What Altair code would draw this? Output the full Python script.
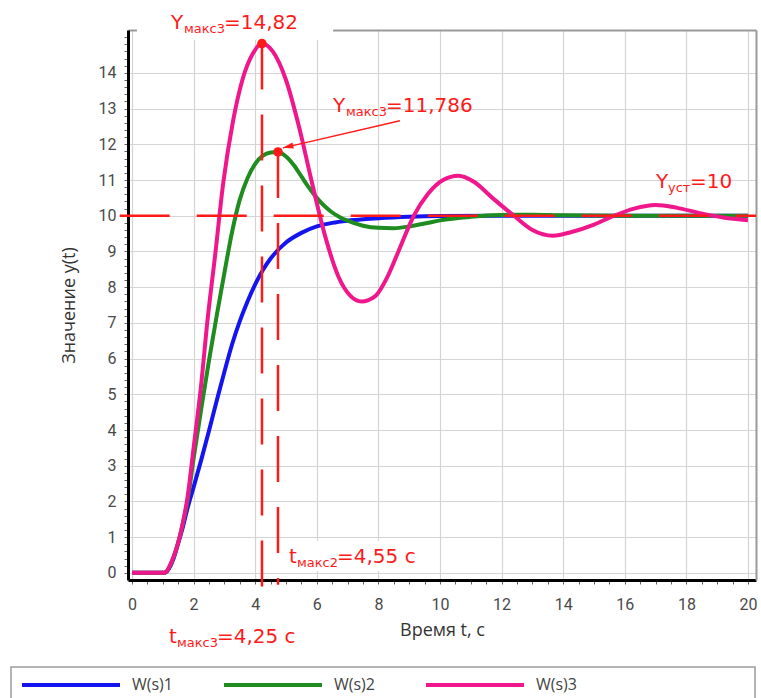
import altair as alt
import pandas as pd

# ---------------- data ----------------
series_names = ["W(s)1", "W(s)2", "W(s)3"]
series_colors = ["#1414F0", "#1E8C1E", "#F0168C"]

t1 = [0, 1.0, 1.1, 1.2, 1.35, 1.5, 1.65, 1.8, 2.0, 2.25, 2.5, 2.75, 3.0, 3.25, 3.5, 3.75,
      4.0, 4.25, 4.5, 5.0, 5.5, 6.0, 6.5, 7.0, 7.5, 8.0, 9.0, 10.0, 12.0, 14.0, 16.0, 18.0, 20.0]
y1 = [0, 0, 0.02, 0.12, 0.4, 0.83, 1.28, 1.8, 2.4, 3.17, 3.98, 4.82, 5.63, 6.4, 7.05, 7.6,
      8.08, 8.48, 8.8, 9.25, 9.52, 9.7, 9.8, 9.86, 9.9, 9.93, 9.97, 9.99, 10, 10, 10, 10, 10]

t2 = [0, 1.0, 1.1, 1.2, 1.35, 1.5, 1.65, 1.8, 2.0, 2.25, 2.5, 2.75, 3.0, 3.25, 3.5, 3.75,
      4.0, 4.25, 4.5, 4.74, 5.0, 5.25, 5.5, 5.75, 6.0, 6.25, 6.5, 6.75, 7.0, 7.5, 8.0, 8.5,
      9.0, 9.5, 10.0, 11.0, 12.0, 13.0, 14.0, 16.0, 20.0]
y2 = [0, 0, 0.02, 0.14, 0.44, 0.85, 1.38, 2.0, 3.2, 4.6, 5.95, 7.2, 8.4, 9.55, 10.45, 11.05,
      11.45, 11.68, 11.77, 11.786, 11.66, 11.42, 11.1, 10.78, 10.5, 10.27, 10.09, 9.96, 9.86,
      9.72, 9.66, 9.65, 9.7, 9.78, 9.87, 9.97, 10.02, 10.03, 10.01, 10, 10]

t3 = [0, 1.0, 1.1, 1.2, 1.35, 1.5, 1.65, 1.8, 2.0, 2.25, 2.43, 2.7, 2.96, 3.28, 3.6, 3.93,
      4.22, 4.57, 5.0, 5.42, 5.85, 6.28, 6.7, 7.1, 7.45, 7.9, 8.3, 8.65, 9.15, 9.6, 10.1,
      10.6, 11.1, 11.7, 12.4, 13.0, 13.67, 14.3, 15.0, 15.65, 16.3, 17.0, 17.7, 18.4, 19.2, 20.0]
y3 = [0, 0, 0.02, 0.15, 0.45, 0.85, 1.4, 2.1, 3.5, 5.3, 6.9, 8.9, 10.9, 12.65, 13.85, 14.55,
      14.82, 14.6, 13.8, 12.5, 10.9, 9.4, 8.3, 7.75, 7.6, 7.75, 8.3, 9.0, 10.0, 10.6, 11.0,
      11.12, 10.95, 10.5, 10.0, 9.6, 9.44, 9.55, 9.75, 10.0, 10.2, 10.3, 10.22, 10.08, 9.95, 9.87]

y_ust = 10
t_max3, y_max3 = 4.22, 14.82
t_max2, y_max2 = 4.74, 11.786
arrow_start = (8.7, 12.66)
arrow_tip = (4.9, 11.9)

x_major = list(range(0, 21, 2))
y_major = list(range(0, 15))
x_minor = [i / 2 for i in range(41)]
y_minor = [round(i * 0.2, 1) for i in range(76)]

# ---------------- styling ----------------
RED = "#FF1A1A"
RED_FONT = "DejaVu Sans"
GRID = "#d4d4d4"
X_DOM = [-0.13, 20.26]
Y_DOM = [-0.2, 15.2]
xs = alt.Scale(domain=X_DOM, nice=False, zero=False)
ys = alt.Scale(domain=Y_DOM, nice=False, zero=False)

df = pd.concat([
    pd.DataFrame({"t": t, "y": y, "s": n})
    for t, y, n in [(t1, y1, series_names[0]), (t2, y2, series_names[1]), (t3, y3, series_names[2])]
])

x_test = "datum.value % 2 === 0"
y_test = "datum.value % 1 === 0 && datum.value <= 14"

main_x_axis = alt.Axis(
    values=x_minor,
    labelExpr=f"{x_test} ? '' + datum.value : ''",
    labelOverlap=False, labelFlush=False,
    labelFont="Roboto", labelFontSize=16, labelColor="#4a4a4a", labelPadding=12,
    grid=False,
    tickSize=4, tickWidth=1, tickColor="#666666",
    domainColor="#000000", domainWidth=3,
    titleFont="Open Sans", titleFontSize=18, titleColor="#333333", titleFontWeight="normal",
    titlePadding=9,
)
main_y_axis = alt.Axis(
    values=y_minor,
    labelExpr=f"{y_test} ? '' + datum.value : ''",
    labelOverlap=False, labelFlush=False,
    labelFont="Roboto", labelFontSize=16, labelColor="#4a4a4a", labelPadding=8,
    grid=False,
    tickSize=4, tickWidth=1, tickColor="#666666",
    domainColor="#000000", domainWidth=3,
    titleFont="Open Sans", titleFontSize=18, titleColor="#333333", titleFontWeight="normal",
    titlePadding=20,
)
# top / right axes: grey frame edges, and they carry the major grid lines
frame_x_axis = alt.Axis(orient="top", values=x_major, domainColor="#9a9a9a", domainWidth=2,
                        ticks=False, labels=False, grid=True, gridColor=GRID, gridWidth=1.2)
frame_y_axis = alt.Axis(orient="right", values=y_major, domainColor="#9a9a9a", domainWidth=2,
                        ticks=False, labels=False, grid=True, gridColor=GRID, gridWidth=1.2)


def pt(x, y):
    return pd.DataFrame({"x": [x], "y": [y]})


def enc(chart):
    return chart.encode(x=alt.X("x:Q", scale=xs, axis=None), y=alt.Y("y:Q", scale=ys, axis=None))


layers = []

# horizontal steady-state line (also carries the top/right frame axes + grid)
hline_df = pd.DataFrame({"x0": [-0.4], "x1": [X_DOM[1]], "y": [y_ust]})
hline = alt.Chart(hline_df).mark_rule(color=RED, strokeWidth=2.5, strokeDash=[50, 27], clip=False).encode(
    x=alt.X("x0:Q", scale=xs, axis=frame_x_axis, title=None), x2="x1:Q",
    y=alt.Y("y:Q", scale=ys, axis=frame_y_axis, title=None))

# white label backgrounds
box_df = pd.DataFrame({"x": [0.16, 4.98], "x2": [6.53, 9.55], "y": [14.93, 0.05], "y2": [15.9, 0.9]})
layers.append(
    alt.Chart(box_df).mark_rect(color="white", clip=False).encode(
        x=alt.X("x:Q", scale=xs, axis=None), x2="x2:Q",
        y=alt.Y("y:Q", scale=ys, axis=None), y2="y2:Q")
)

# curves
lines = alt.Chart(df).mark_line(strokeWidth=4, interpolate="monotone").encode(
    x=alt.X("t:Q", scale=xs, axis=main_x_axis, title="Время t, с"),
    y=alt.Y("y:Q", scale=ys, axis=main_y_axis, title="Значение y(t)"),
    color=alt.Color(
        "s:N",
        scale=alt.Scale(domain=series_names, range=series_colors),
        legend=alt.Legend(
            orient="none", legendX=-108, legendY=604, direction="horizontal", title=None,
            symbolType="stroke", symbolSize=9604, symbolStrokeWidth=4,
            labelFont="Open Sans", labelFontSize=16, labelColor="#444444", labelOffset=10,
            columnPadding=43, padding=0,
        ),
    ),
)
layers.append(lines)
layers.append(hline)

# vertical dashed lines
vl_df = pd.DataFrame({"x": [t_max3, t_max2], "y": [y_max3, y_max2], "y2": [-0.55, -0.33]})
layers.append(
    alt.Chart(vl_df).mark_rule(color=RED, strokeWidth=2.5, strokeDash=[46, 25], clip=False).encode(
        x=alt.X("x:Q", scale=xs, axis=None),
        y=alt.Y("y:Q", scale=ys, axis=None), y2="y2:Q")
)

# arrow
arr_df = pd.DataFrame({"x": [arrow_start[0]], "y": [arrow_start[1]],
                       "x2": [arrow_tip[0]], "y2": [arrow_tip[1]]})
layers.append(
    alt.Chart(arr_df).mark_rule(color=RED, strokeWidth=1.5).encode(
        x=alt.X("x:Q", scale=xs, axis=None), x2="x2:Q",
        y=alt.Y("y:Q", scale=ys, axis=None), y2="y2:Q")
)
layers.append(enc(alt.Chart(pt(*arrow_tip)).mark_point(
    shape="M0,0L2,-0.6L2,0.6Z", size=110, angle=347, filled=True, color=RED, opacity=1)))

# peak dots
dots_df = pd.DataFrame({"x": [t_max3, t_max2], "y": [y_max3, y_max2]})
layers.append(enc(alt.Chart(dots_df).mark_circle(size=90, color=RED, opacity=1)))

# text annotations (main text + subscript pieces)
labels = [
    ((t_max3, y_max3), [("Y", 20, -91, -15), ("макс3", 13, -78, -11), ("=14,82", 20, -38, -15)]),
    ((t_max2, y_max2), [("Y", 20, 55, -40), ("макс3", 13, 68, -36), ("=11,786", 20, 108, -40)]),
    ((20, y_ust), [("Y", 20, -92, -28), ("уст", 13, -80, -24), ("=10", 20, -58, -28)]),
    ((t_max2, 0), [("t", 20, 11, -10), ("макс2", 13, 19, -6), ("=4,55 с", 20, 59, -10)]),
    ((t_max3, 0), [("t", 20, -93, 70), ("макс3", 13, -85, 74), ("=4,25 с", 20, -45, 70)]),
]
for (ax, ay), pieces in labels:
    for txt, fs, dx, dy in pieces:
        layers.append(enc(alt.Chart(pt(ax, ay)).mark_text(
            text=txt, font=RED_FONT, fontSize=fs, color=RED, align="left",
            baseline="alphabetic", dx=dx, dy=dy, clip=False)))

# legend frame
layers.append(
    alt.Chart(pd.DataFrame({"a": [0]})).mark_rect(
        fill="transparent", stroke="#9c9c9c", strokeWidth=1.5, clip=False).encode(
        x=alt.value(-117), x2=alt.value(627), y=alt.value(637), y2=alt.value(672))
)

chart = alt.layer(*layers).resolve_axis(x="independent", y="independent").properties(
    width=628, height=550,
    autosize=alt.AutoSizeParams(type="none"),
    padding={"left": 128, "top": 30, "right": 5, "bottom": 118},
    background="white",
).configure_view(strokeWidth=0)

chart.save("out.html", embed_options={"renderer": "svg", "actions": False})
